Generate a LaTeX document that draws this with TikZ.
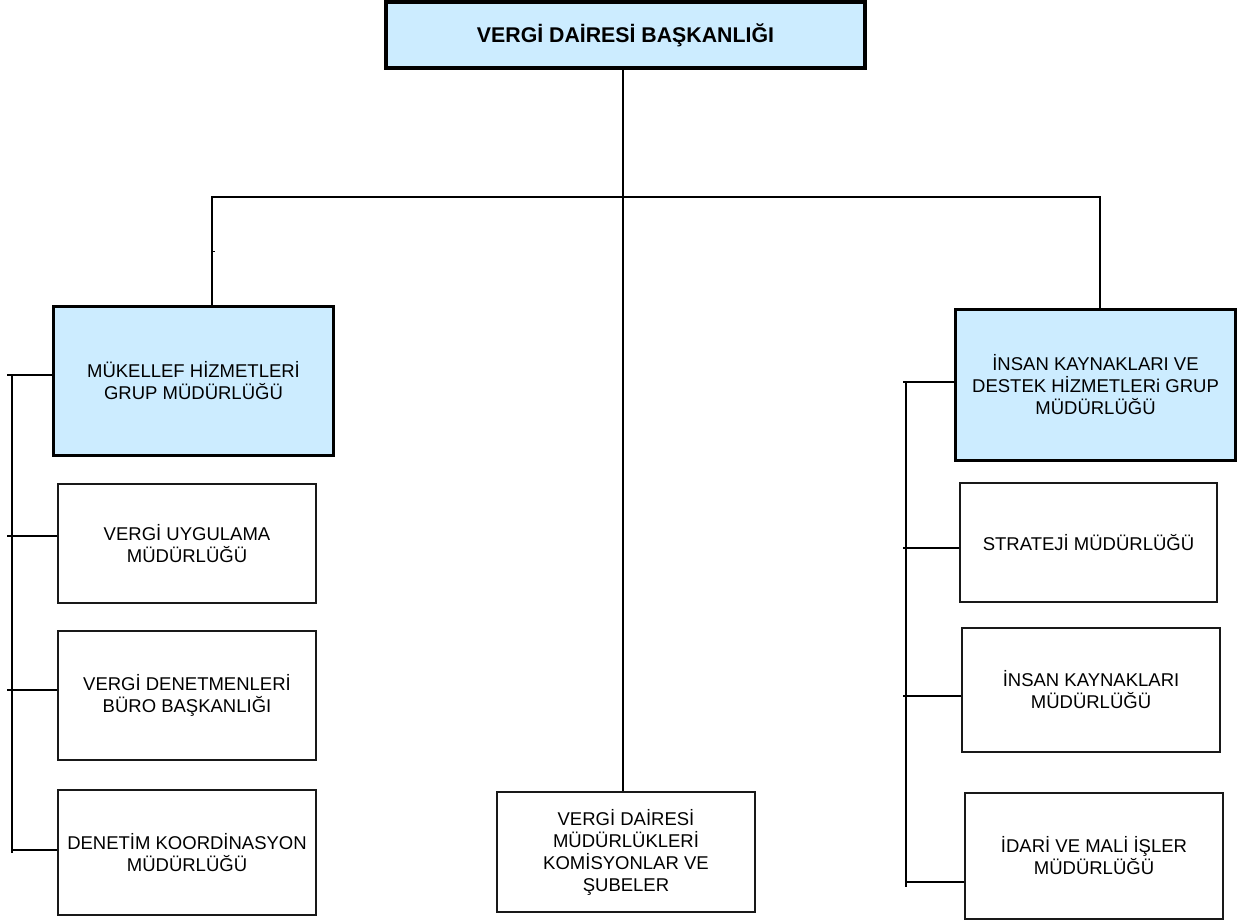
\documentclass[tikz,border=0pt]{standalone}
\usepackage{fontspec}
\setmainfont{Liberation Sans}
\definecolor{boxblue}{RGB}{204,236,255}
\definecolor{linegray}{RGB}{25,25,25}
\begin{document}
\begin{tikzpicture}[x=1pt,y=-1pt,
  txt/.style={align=center,font=\fontsize{18.5}{22}\selectfont,inner sep=0pt},
  grpbox/.style={txt,draw=black,fill=boxblue,line width=3.2pt},
  unitbox/.style={txt,draw=linegray,line width=1.3pt,fill=white},
  conn/.style={draw=black,line width=1.5pt}]
\useasboundingbox (0,0) rectangle (1248,922);

% top
\node[grpbox,line width=4pt,minimum width=479pt,minimum height=66pt,font=\fontsize{21.3}{24}\selectfont\bfseries] (top) at (625.5,35) {VERGİ DAİRESİ BAŞKANLIĞI};

% groups
\node[grpbox,minimum width=280pt,minimum height=149pt] (g1) at (193.5,381) {MÜKELLEF HİZMETLERİ\\GRUP MÜDÜRLÜĞÜ};
\node[grpbox,minimum width=280pt,minimum height=151pt] (g2) at (1095.5,385) {İNSAN KAYNAKLARI VE\\DESTEK HİZMETLERi GRUP\\MÜDÜRLÜĞÜ};

% left units
\node[unitbox,minimum width=258pt,minimum height=119pt] (l1) at (187,543.5) {VERGİ UYGULAMA\\MÜDÜRLÜĞÜ};
\node[unitbox,minimum width=258pt,minimum height=129pt] (l2) at (187,695.5) {VERGİ DENETMENLERİ\\BÜRO BAŞKANLIĞI};
\node[unitbox,minimum width=258pt,minimum height=125pt] (l3) at (187,852.5) {DENETİM KOORDİNASYON\\MÜDÜRLÜĞÜ};

% middle
\node[unitbox,minimum width=258pt,minimum height=120pt] (m) at (626,852) {VERGİ DAİRESİ\\MÜDÜRLÜKLERİ\\KOMİSYONLAR VE\\ŞUBELER};

% right units
\node[unitbox,minimum width=257pt,minimum height=119pt] (r1) at (1088.5,542.5) {STRATEJİ MÜDÜRLÜĞÜ};
\node[unitbox,minimum width=258pt,minimum height=124pt] (r2) at (1091,690) {İNSAN KAYNAKLARI\\MÜDÜRLÜĞÜ};
\node[unitbox,minimum width=258pt,minimum height=126pt] (r3) at (1094,856) {İDARİ VE MALİ İŞLER\\MÜDÜRLÜĞÜ};

% coordinates for connector routing
\coordinate (midx) at (623,0);
\coordinate (busL) at (212,197);
\coordinate (busR) at (1100,197);
\coordinate (tickL) at (215,251);
\coordinate (lvTop) at (12,375);
\coordinate (lvBot) at (12,853);
\coordinate (lx) at (7,0);
\coordinate (rvTop) at (906,382);
\coordinate (rvBot) at (906,887);
\coordinate (rx) at (903,0);

% trunk
\draw[conn] (top.south -| midx) -- (m.north -| midx);
\draw[conn] (g1.north -| busL) -- (busL) -- (busR) -- (g2.north -| busR);
\draw[line width=1pt] (busL |- tickL) -- (tickL);

% left bracket
\draw[conn] (lvTop) -- (lvBot);
\draw[conn] ([yshift=6pt]g1.west) -- ([yshift=6pt]g1.west -| lx);
\draw[conn] ([yshift=7.5pt]l1.west) -- ([yshift=7.5pt]l1.west -| lx);
\draw[conn] ([yshift=5.5pt]l2.west) -- ([yshift=5.5pt]l2.west -| lx);
\draw[conn] ([yshift=2.5pt]l3.west) -- ([yshift=2.5pt]l3.west -| lvTop);

% right bracket
\draw[conn] (rvTop) -- (rvBot);
\draw[conn] ([yshift=3pt]g2.west) -- ([yshift=3pt]g2.west -| rx);
\draw[conn] ([yshift=-5.5pt]r1.west) -- ([yshift=-5.5pt]r1.west -| rx);
\draw[conn] ([yshift=-6pt]r2.west) -- ([yshift=-6pt]r2.west -| rx);
\draw[conn] ([yshift=-26pt]r3.west) -- ([yshift=-26pt]r3.west -| rvTop);
\end{tikzpicture}
\end{document}
